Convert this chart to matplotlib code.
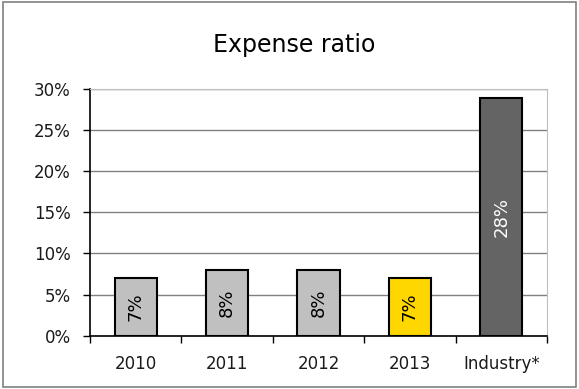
import math
import matplotlib
matplotlib.use("Agg")
import matplotlib.pyplot as plt
from matplotlib.patches import Rectangle

categories = ["2010", "2011", "2012", "2013", "Industry*"]
values = [7, 8, 8, 7, 28.9]
bar_colors = ["#C0C0C0", "#C0C0C0", "#C0C0C0", "#FFD700", "#646464"]
label_colors = ["black", "black", "black", "black", "white"]
y_ticks = [0, 5, 10, 15, 20, 25, 30]

plt.rcParams["font.family"] = ["DejaVu Sans"]

fig = plt.figure(figsize=(5.79, 3.89), dpi=100)
fig.patches.append(Rectangle((0.005, 0.005), 0.99, 0.99, transform=fig.transFigure,
                             fill=False, edgecolor="#808080", linewidth=1.2))

ax = fig.add_axes([0.1554, 0.137, 0.7893, 0.634])
x = list(range(len(categories)))
ax.bar(x, values, width=0.46, color=bar_colors, edgecolor="black", linewidth=1.5, zorder=3)

for xi, v, c in zip(x, values, label_colors):
    ax.text(xi, v / 2, f"{math.floor(v)}%", rotation=90, ha="center", va="center",
            fontsize=13, color=c, zorder=4)

ax.set_xlim(-0.5, len(categories) - 0.5)
ax.set_ylim(0, 30)
ax.set_yticks(y_ticks)
ax.set_yticklabels([f"{t}%" for t in y_ticks], fontsize=12, color="#1a1a1a")
ax.yaxis.grid(True, color="#808080", linewidth=1, zorder=0)
ax.set_axisbelow(True)

ax.set_xticks(x)
ax.set_xticklabels(categories, fontsize=12, color="#1a1a1a")
ax.tick_params(axis="x", length=0, pad=14)
ax.set_xticks([i - 0.5 for i in range(len(categories) + 1)], minor=True)
ax.tick_params(axis="x", which="minor", length=5, width=1, direction="out", color="black")
ax.tick_params(axis="y", length=5, width=1, direction="out", pad=9)

ax.spines["left"].set_color("black")
ax.spines["left"].set_linewidth(1.2)
ax.spines["bottom"].set_color("black")
ax.spines["bottom"].set_linewidth(1.2)
ax.spines["top"].set_color("#BFBFBF")
ax.spines["right"].set_color("#BFBFBF")

fig.text(294 / 579, 1 - 45 / 389, "Expense ratio", ha="center", va="center", fontsize=17)

fig.savefig("out.png", dpi=100)
